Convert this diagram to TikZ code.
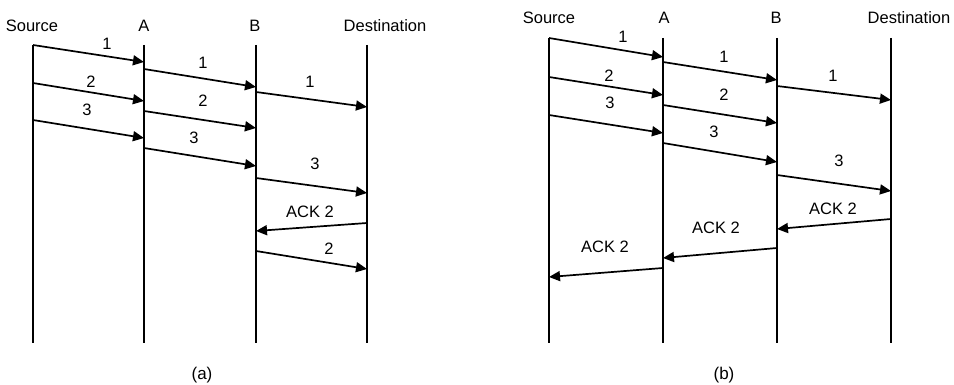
\documentclass[tikz,border=0pt]{standalone}
\usepackage{fontspec}
\setmainfont{Liberation Sans}
\usetikzlibrary{arrows.meta}
\tikzset{
  life/.style={line width=1.9pt},
  msg/.style={line width=1.7pt,-{Triangle[length=11pt,width=10pt]}},
  lbl/.style={font=\fontsize{16.5}{18}\selectfont,inner sep=0pt},
  captxt/.style={font=\fontsize{17}{19}\selectfont,inner sep=0pt}
}
\newcommand{\mymsg}[8]{%
  \coordinate (#8s) at (#1,#2);
  \coordinate (#8e) at (#3,#4);
  \draw[msg] (#8s) -- (#8e);
  \node[lbl] (#8l) at (#6,#7) {#5};
}
\begin{document}
\begin{tikzpicture}[x=1pt,y=-1pt]
\useasboundingbox (0,0) rectangle (954,385);
% ---------- panel (a)
\foreach \n/\x in {aS/33,aA/144,aB/256,aD/367}{
  \coordinate (\n top) at (\x,45);
  \coordinate (\n bot) at (\x,343);
  \draw[life] (\n top) -- (\n bot);
}
\node[lbl] (aSt) at (32,26) {Source};
\node[lbl] (aAt) at (144,26) {A};
\node[lbl] (aBt) at (255,26) {B};
\node[lbl] (aDt) at (385,26) {Destination};
\mymsg{33}{45}{144}{62}{1}{107}{44}{am1}
\mymsg{33}{83}{144}{101}{2}{91}{82}{am2}
\mymsg{33}{120}{144}{138}{3}{87}{110}{am3}
\mymsg{144}{69}{256}{87}{1}{203}{63}{an1}
\mymsg{144}{111}{256}{128}{2}{203}{101}{an2}
\mymsg{144}{148}{256}{166}{3}{194}{138}{an3}
\mymsg{256}{92}{367}{107}{1}{310}{82}{ao1}
\mymsg{256}{178}{367}{193}{3}{315}{164}{ao3}
\mymsg{367}{223}{256}{231}{ACK 2}{310}{212}{aack}
\mymsg{256}{251}{367}{269}{2}{329}{249}{ao2}
\node[captxt] (capa) at (202,375) {(a)};
% ---------- panel (b)
\foreach \n/\x in {bS/549,bA/663,bB/777,bD/891}{
  \coordinate (\n top) at (\x,38);
  \coordinate (\n bot) at (\x,343);
  \draw[life] (\n top) -- (\n bot);
}
\node[lbl] (bSt) at (549,18) {Source};
\node[lbl] (bAt) at (664,18) {A};
\node[lbl] (bBt) at (776,18) {B};
\node[lbl] (bDt) at (909,18) {Destination};
\mymsg{549}{38}{663}{57}{1}{623}{37}{bm1}
\mymsg{549}{77}{663}{95}{2}{609}{76}{bm2}
\mymsg{549}{115}{663}{133}{3}{610}{103}{bm3}
\mymsg{663}{62}{777}{80}{1}{724}{57}{bn1}
\mymsg{663}{105}{777}{123}{2}{724}{95}{bn2}
\mymsg{663}{143}{777}{162}{3}{714}{132}{bn3}
\mymsg{777}{86}{891}{100}{1}{833}{76}{bo1}
\mymsg{777}{175}{891}{191}{3}{839}{161}{bo3}
\mymsg{891}{219}{777}{229}{ACK 2}{833}{209}{back1}
\mymsg{777}{248}{663}{258}{ACK 2}{716}{228}{back2}
\mymsg{663}{268}{549}{277}{ACK 2}{605}{247}{back3}
\node[captxt] (capb) at (724,375) {(b)};
\end{tikzpicture}
\end{document}
